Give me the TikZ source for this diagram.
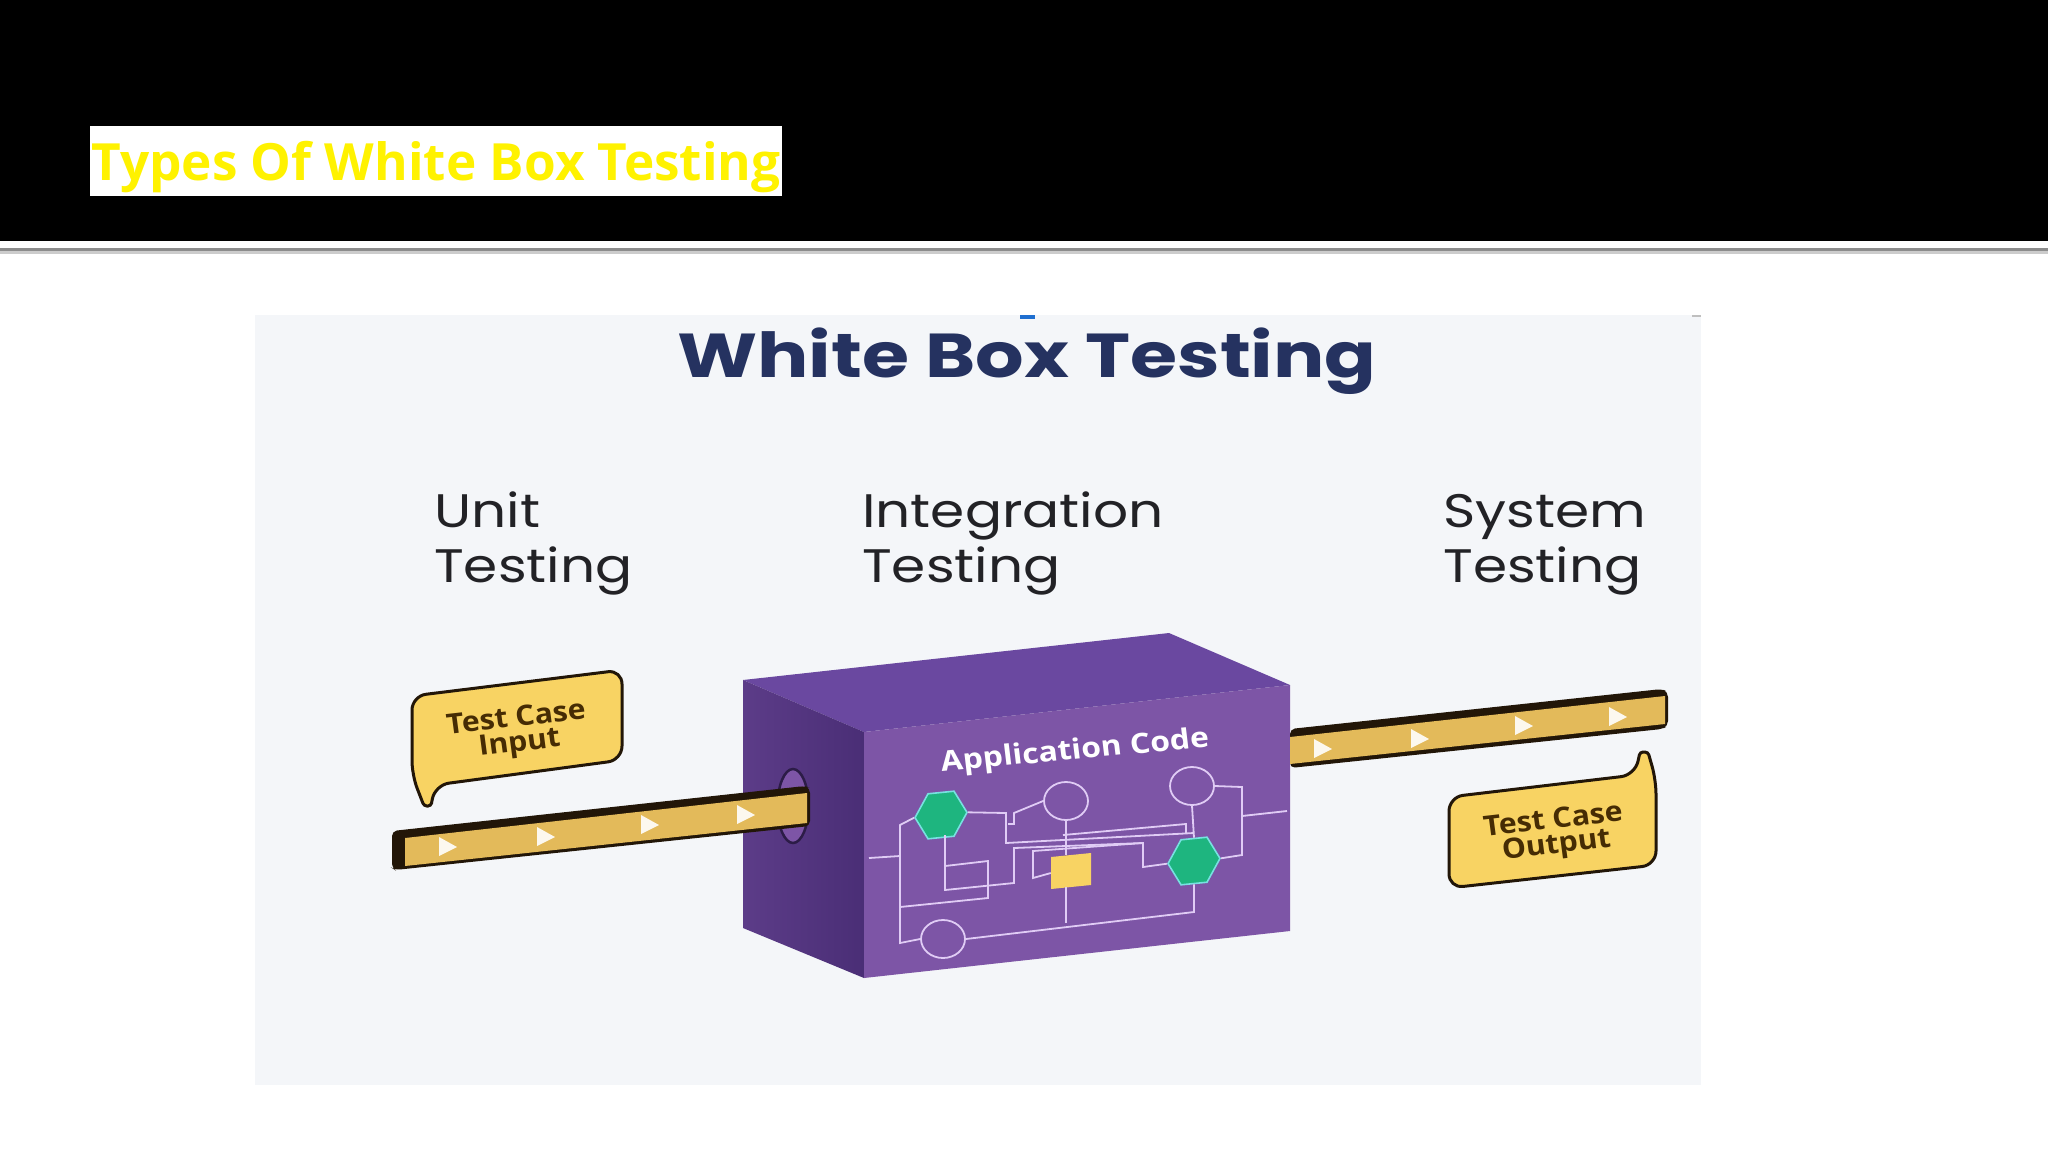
\documentclass[tikz,border=0pt]{standalone}
\usepackage{fontspec}
\setmainfont{Open Sans}
\newfontfamily\headfont{Poppins}
\usetikzlibrary{shapes.geometric,positioning}
\definecolor{mynavy}{RGB}{37,50,96}
\definecolor{myink}{RGB}{34,34,38}
\definecolor{mypanel}{RGB}{244,246,249}
\definecolor{mydash}{RGB}{31,111,208}
\definecolor{myfront}{RGB}{125,85,166}
\definecolor{mytop}{RGB}{106,72,160}
\definecolor{myside}{RGB}{92,60,136}
\definecolor{mysidedark}{RGB}{74,46,118}
\definecolor{mytube}{RGB}{227,186,90}
\definecolor{mybubble}{RGB}{248,211,99}
\definecolor{myoutline}{RGB}{34,22,8}
\definecolor{mybrown}{RGB}{70,44,4}
\definecolor{mywire}{RGB}{224,204,245}
\definecolor{mygreen}{RGB}{30,181,127}
\definecolor{mycyan}{RGB}{120,225,225}

\begin{document}
\begin{tikzpicture}[
    x=1pt, y=-1pt,
    heading/.style={font=\headfont\fontsize{47}{55}\selectfont, text=myink, align=left, anchor=base west, inner sep=0pt, xscale=1.17},
    bubble/.style={fill=mybubble, draw=myoutline, line width=3pt, rounded corners=14pt},
    bubbletext/.style={font=\fontsize{28}{25}\selectfont\bfseries, text=mybrown, align=center, inner sep=0pt, xscale=1.08, rotate=7},
    tubeline/.style={fill=myoutline, rounded corners=5pt},
    tubefill/.style={fill=mytube},
    marker/.style={fill=white!90!mytube},
    wire/.style={draw=mywire, line width=1.8pt},
    ring/.style={ellipse, draw=mywire, line width=1.8pt, minimum width=44pt, minimum height=38pt, inner sep=0pt},
    hexagon/.style={regular polygon, regular polygon sides=6, fill=mygreen, draw=mycyan, line width=1.6pt, minimum size=52pt, inner sep=0pt, yslant=0.1, transform shape}
]
\useasboundingbox (0,0) rectangle (2048,1152);
\fill[white] (0,0) rectangle (2048,1152);

% Header band
\fill[black] (0,0) rectangle (2048,241);
\fill[black!45] (0,248) rectangle (2048,251);
\fill[black!20] (0,251) rectangle (2048,254);
\node[fill=white, minimum width=692pt, minimum height=70pt, inner sep=0pt, anchor=north west] (band-title) at (90,126) {};
\node[font=\fontsize{51.3}{60}\selectfont\bfseries, text=yellow, inner sep=0pt] (band-text) at (436,167) {Types Of White Box Testing};

% Picture panel
\fill[mypanel] (255,315) rectangle (1701,1085);
\fill[mydash] (1020,315) rectangle (1035,319);
\fill[black!25] (1692,315) rectangle (1701,316.5);
\node[font=\headfont\fontsize{62}{70}\selectfont\bfseries, text=mynavy, inner sep=0pt, xscale=1.23] (panel-title) at (1027,361) {White Box Testing};

% Column headings
\node[heading] (unit) at (434,582) {Unit\\Testing};
\node[heading] (integration) at (862,582) {Integration\\Testing};
\node[heading] (system) at (1443,582) {System\\Testing};

% Box faces
\fill[mytop] (743,680) -- (1169,633) -- (1290,685) -- (864,732) -- cycle;
\shade[left color=myside, right color=mysidedark] (743,680) -- (864,732) -- (864,978) -- (743,928) -- cycle;
\fill[myfront] (864,732) -- (1290,685) -- (1290,931) -- (864,978) -- cycle;

% Hole and left tube
\node[ellipse, fill=myfront, draw=mysidedark!60!black, line width=2.5pt, minimum width=31pt, minimum height=74pt, inner sep=0pt] (hole) at (793,806) {};
\fill[tubeline] (392,831) -- (805,786) -- (810,788) -- (810,826) -- (395,870) -- (392,868) -- cycle;
\fill[tubefill] (405,838) -- (807,793) -- (807,823) -- (405,866) -- cycle;
\foreach \px/\py in {448/847, 546/837, 650/825, 746/815} {
    \fill[marker] (\px-9,\py-10) -- (\px+9,\py) -- (\px-9,\py+9) -- cycle;
}

% Right tube
\fill[tubeline] (1290,729) -- (1662,689) -- (1668,692) -- (1668,726) -- (1662,729) -- (1290,768) -- cycle;
\fill[tubefill] (1290,737) -- (1665,696) -- (1665,724) -- (1290,764) -- cycle;
\foreach \px/\py in {1323/749, 1420/739, 1524/726, 1618/717} {
    \fill[marker] (\px-9,\py-10) -- (\px+9,\py) -- (\px-9,\py+9) -- cycle;
}

% Bubbles
\draw[bubble] (412,696) -- (622,670) -- (622,760) -- (435,785) [rounded corners=3pt] -- (431,806) -- (424,806) [rounded corners=14pt] -- (412,775) -- cycle;
\node[bubbletext] (input) at (518,732) {Test Case\\Input};
\draw[bubble] (1449,797) -- (1635,775) [rounded corners=3pt] -- (1640,752) -- (1648,752) [rounded corners=14pt] -- (1656,780) -- (1656,865) -- (1449,888) -- cycle;
\node[bubbletext] (output) at (1555,834) {Test Case\\Output};

% Circuit parts
\node[font=\fontsize{28}{30}\selectfont\bfseries, text=white, inner sep=0pt, xscale=1.14, rotate=6] (code) at (1075,752) {Application Code};
\node[hexagon] (hex-left) at (941,815) {};
\node[hexagon] (hex-right) at (1194,861) {};
\node[ring] (ring-mid) at (1066,801) {};
\node[ring] (ring-right) at (1192,786) {};
\node[ring] (ring-low) at (943,939) {};
\node[fill=mybubble, minimum width=40pt, minimum height=32pt, inner sep=0pt, yslant=0.1, transform shape] (chip) at (1071,871) {};

% Wires
\draw[wire] (869,858) -- (900,856);
\draw[wire] (hex-left.west) -- (900,825) -- (900,943) -- (ring-low.west);
\draw[wire] (900,907) -- (988,898) -- (988,861) -- (945,866);
\draw[wire] (945,835) -- (945,890) -- (1014,883) -- (1014,848) -- (1143,843) -- (1143,867) -- (hex-right.west);
\draw[wire] (hex-left.east) -- (1006,813) -- (1006,843) -- (1194,833);
\draw[wire] (1008,824) -- (1014,824) -- (1014,813) -- (ring-mid.west);
\draw[wire] (1063,835) -- (1186,824) -- (1186,833);
\draw[wire] (ring-mid.south) -- (ring-mid.south |- chip.north);
\draw[wire] (chip.west) -- (1033,878) -- (1033,851) -- (1143,843);
\draw[wire] (ring-mid.south |- chip.south) -- (1066,923);
\draw[wire] (ring-low.east) -- (1194,912) -- (hex-right.south);
\draw[wire] (ring-right.south) -- (hex-right.north);
\draw[wire] (ring-right.east) -- (1242,787) -- (1242,855) -- (hex-right.east);
\draw[wire] (1242,816) -- (1287,811);

\end{tikzpicture}
\end{document}
